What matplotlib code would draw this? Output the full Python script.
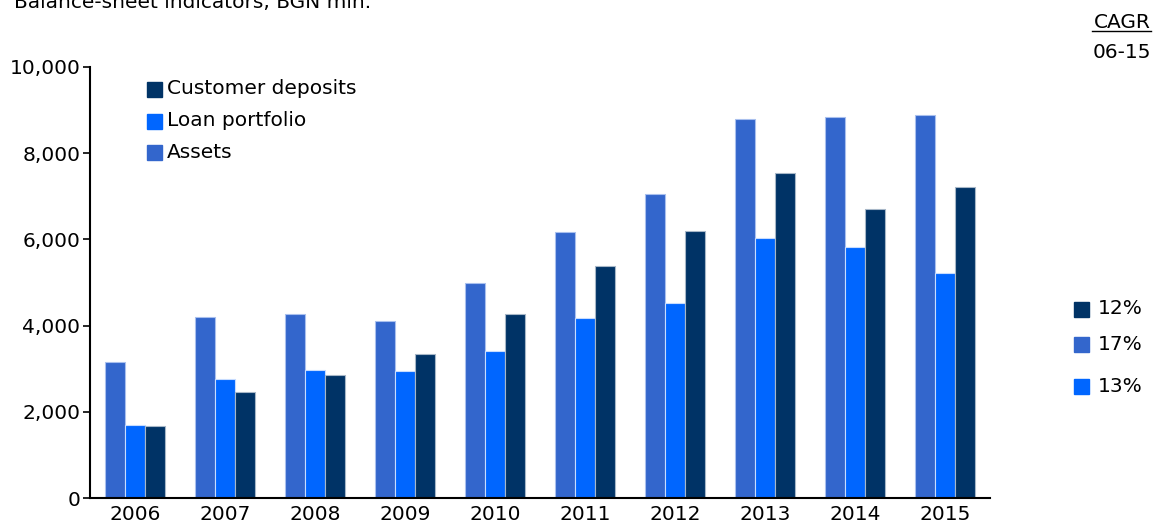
import matplotlib.pyplot as plt
import numpy as np
from matplotlib.patches import Rectangle

years = ['2006', '2007', '2008', '2009', '2010', '2011', '2012', '2013', '2014', '2015']
assets = [3150, 4200, 4270, 4110, 4990, 6170, 7050, 8790, 8840, 8890]
loans = [1700, 2760, 2970, 2950, 3410, 4180, 4520, 6030, 5820, 5220]
deposits = [1670, 2460, 2850, 3340, 4270, 5380, 6190, 7540, 6700, 7210]

legend_labels = ['Customer deposits', 'Loan portfolio', 'Assets']
cagr_labels = ['12%', '17%', '13%']

c_assets = '#3366CC'
c_loans = '#0066FF'
c_deps = '#003366'

plt.rcParams['font.family'] = 'DejaVu Sans'
fs = 14.5

fig = plt.figure(figsize=(11.54, 5.24), dpi=100)
ax = fig.add_axes([90 / 1154, 26 / 524, 900 / 1154, 431 / 524])

x = np.arange(len(years))
w = 0.222
ax.bar(x - w, assets, w, color=c_assets, edgecolor='#a9c0ee', linewidth=0.8)
ax.bar(x, loans, w, color=c_loans, edgecolor='#c7dcff', linewidth=0.8)
ax.bar(x + w, deposits, w, color=c_deps, edgecolor='#a7b7c8', linewidth=0.8)

ax.set_xlim(-0.5, len(years) - 0.5)
ax.set_ylim(0, 10000)
ax.set_yticks(range(0, 10001, 2000))
ax.set_yticklabels([f'{v:,}' for v in range(0, 10001, 2000)], fontsize=fs)
ax.set_xticks(x)
ax.set_xticklabels(years, fontsize=fs)
ax.tick_params(axis='x', length=0, pad=5)
ax.tick_params(axis='y', length=5, width=1.2, pad=2)
for s in ['top', 'right']:
    ax.spines[s].set_visible(False)
for s in ['left', 'bottom']:
    ax.spines[s].set_linewidth(1.5)

fig.text(14 / 1154, 1 - 8 / 524, 'Balance-sheet indicators, BGN mln.',
         fontsize=fs, va='baseline', ha='left')

# left legend
leg_cols = [c_deps, c_loans, c_assets]
leg_y = [89, 121, 152]
for lab, col, yy in zip(legend_labels, leg_cols, leg_y):
    fig.patches.append(Rectangle((147 / 1154, 1 - (yy + 8) / 524), 15 / 1154, 15 / 524,
                                 color=col, transform=fig.transFigure))
    fig.text(167 / 1154, 1 - yy / 524, lab, fontsize=fs, va='center', ha='left')

# CAGR block
fig.text(1151 / 1154, 1 - 22 / 524, 'CAGR', fontsize=fs, va='center', ha='right')
fig.add_artist(plt.Line2D([1092 / 1154, 1151 / 1154], [1 - 31 / 524, 1 - 31 / 524],
                          color='black', linewidth=1))
fig.text(1151 / 1154, 1 - 53 / 524, '06-15', fontsize=fs, va='center', ha='right')

cagr_cols = [c_deps, c_assets, c_loans]
cagr_y = [309, 344, 386]
for lab, col, yy in zip(cagr_labels, cagr_cols, cagr_y):
    fig.patches.append(Rectangle((1074 / 1154, 1 - (yy + 8) / 524), 15 / 1154, 15 / 524,
                                 color=col, transform=fig.transFigure))
    fig.text(1098 / 1154, 1 - yy / 524, lab, fontsize=fs, va='center', ha='left')

fig.savefig('out.png', dpi=100)
